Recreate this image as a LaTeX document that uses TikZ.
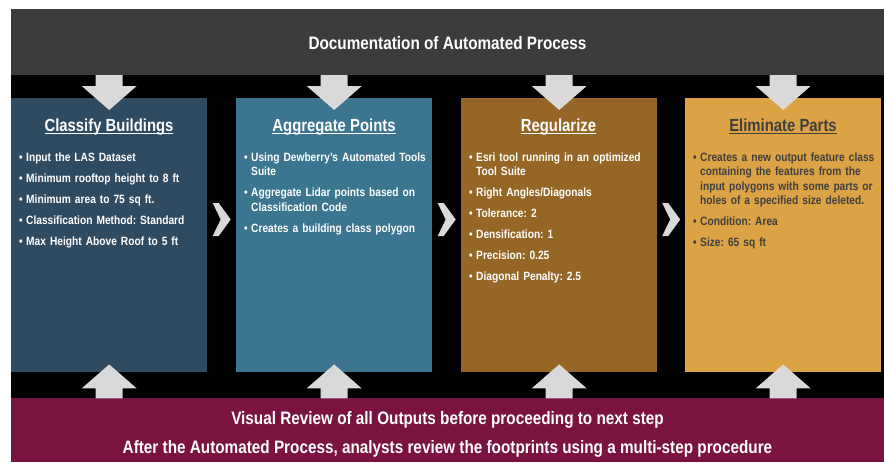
\documentclass[tikz,border=0pt]{standalone}
\usepackage{fontspec}
\usetikzlibrary{calc}
\setmainfont{Liberation Sans}[FakeStretch=0.85]
\definecolor{bandgray}{HTML}{3C3C3C}
\definecolor{reviewred}{HTML}{7A1340}
\definecolor{boxslate}{HTML}{2F4B62}
\definecolor{boxteal}{HTML}{3B758F}
\definecolor{boxbrown}{HTML}{956626}
\definecolor{boxgold}{HTML}{DBA344}
\definecolor{arrowgray}{HTML}{D9D9D9}
\definecolor{darktext}{HTML}{3F3F3F}

% heading underline that runs just under the baseline
\newcommand\hdul[1]{\setbox0\hbox{#1}\rlap{\vrule height -1.3pt depth 2.6pt width \wd0}\box0}
% one bullet item: bullet, then a top-aligned block of lines; struts fix the
% height of the first line and the depth of the last, so items step evenly
\newcommand\bitem[1]{\noindent\hbox to 15pt{\hskip 8pt\textbullet\hss}%
  \parbox[t]{175pt}{\raggedright\vrule height 10pt depth 0pt width 0pt#1\vrule height 0pt depth 4pt width 0pt}\par\prevdepth=4pt }

\begin{document}
\begin{tikzpicture}[x=1pt,y=-1pt,
  stepbox/.style={anchor=north west,inner sep=0,minimum width=196pt,minimum height=274pt},
  headtext/.style={anchor=base,inner sep=0,font=\bfseries\fontsize{17.5}{20}\selectfont},
  bodytext/.style={anchor=north west,inner sep=0,text width=190pt,align=left,
    font=\bfseries\fontsize{12}{14.5}\selectfont\frenchspacing\setlength\parskip{6.5pt}},
  bandtext/.style={anchor=base,inner sep=0,text=white,font=\bfseries\fontsize{18}{20}\selectfont},
  downarrow/.style={fill=arrowgray},
  chev/.style={fill=arrowgray}]

\useasboundingbox (0,0) rectangle (884,463);
\fill[white] (0,0) rectangle (884,463);

% bands
\fill[black] (11,75) rectangle (884,398);
\fill[bandgray] (11,9) rectangle (884,75);
\fill[reviewred] (11,398) rectangle (884,462);

\node[bandtext] (title) at (447.5,49.5) {Documentation of Automated Process};
\node[bandtext] (rev1) at (447.5,424.5) {Visual Review of all Outputs before proceeding to next step};
\node[bandtext] (rev2) at (447.5,453.5) {After the Automated Process, analysts review the footprints using a multi-step procedure};

% step boxes
\node[stepbox,fill=boxslate] (b1) at (11,98) {};
\node[stepbox,fill=boxteal]  (b2) at (236,98) {};
\node[stepbox,fill=boxbrown] (b3) at (461,98) {};
\node[stepbox,fill=boxgold]  (b4) at (685,98) {};

% arrows from the top band and from the review band
\foreach \b in {b1,b2,b3,b4}{
  \fill[downarrow,shift={(\b.north)}] (-13.5,-23) -- (13.5,-23) -- (13.5,-12) -- (27.5,-12)
     -- (0,12) -- (-27.5,-12) -- (-13.5,-12) -- cycle;
  \fill[downarrow,shift={(\b.south)}] (-13.5,26) -- (13.5,26) -- (13.5,16) -- (27.5,16)
     -- (0,-8) -- (-27.5,16) -- (-13.5,16) -- cycle;
}

% chevrons between steps
\foreach \a/\b in {b1/b2,b2/b3,b3/b4}{
  \fill[chev,shift={($(\a.north east)!0.5!(\b.north west)+(0,121.5)$)}]
     (-9,-16.5) -- (-3,-16.5) -- (9,0) -- (-3,16.5) -- (-9,16.5) -- (-1,0) -- cycle;
}

% headings
\node[headtext,text=white] (h1) at (109,131.5) {\hdul{Classify Buildings}};
\node[headtext,text=white] (h2) at (334,131.5) {\hdul{Aggregate Points}};
\node[headtext,text=white] (h3) at (558.5,131.5) {\hdul{Regularize}};
\node[headtext,text=darktext] (h4) at (783,131.5) {\hdul{Eliminate Parts}};

% bullet lists
\node[bodytext,text=white] (t1) at (11,151) {%
\bitem{Input the LAS Dataset}
\bitem{Minimum rooftop height to 8 ft}
\bitem{Minimum area to 75 sq ft.}
\bitem{Classification Method: Standard}
\bitem{Max Height Above Roof to 5 ft}};

\node[bodytext,text=white] (t2) at (236,151) {%
\bitem{Using Dewberry’s Automated Tools\\Suite}
\bitem{Aggregate Lidar points based on\\Classification Code}
\bitem{Creates a building class polygon}};

\node[bodytext,text=white] (t3) at (461,151) {%
\bitem{Esri tool running in an optimized\\Tool Suite}
\bitem{Right Angles/Diagonals}
\bitem{Tolerance: 2}
\bitem{Densification: 1}
\bitem{Precision: 0.25}
\bitem{Diagonal Penalty: 2.5}};

\node[bodytext,text=darktext] (t4) at (685,151) {%
\bitem{Creates a new output feature class\\containing the features from the\\input polygons with some parts or\\holes of a specified size deleted.}
\bitem{Condition: Area}
\bitem{Size: 65 sq ft}};

\end{tikzpicture}
\end{document}
